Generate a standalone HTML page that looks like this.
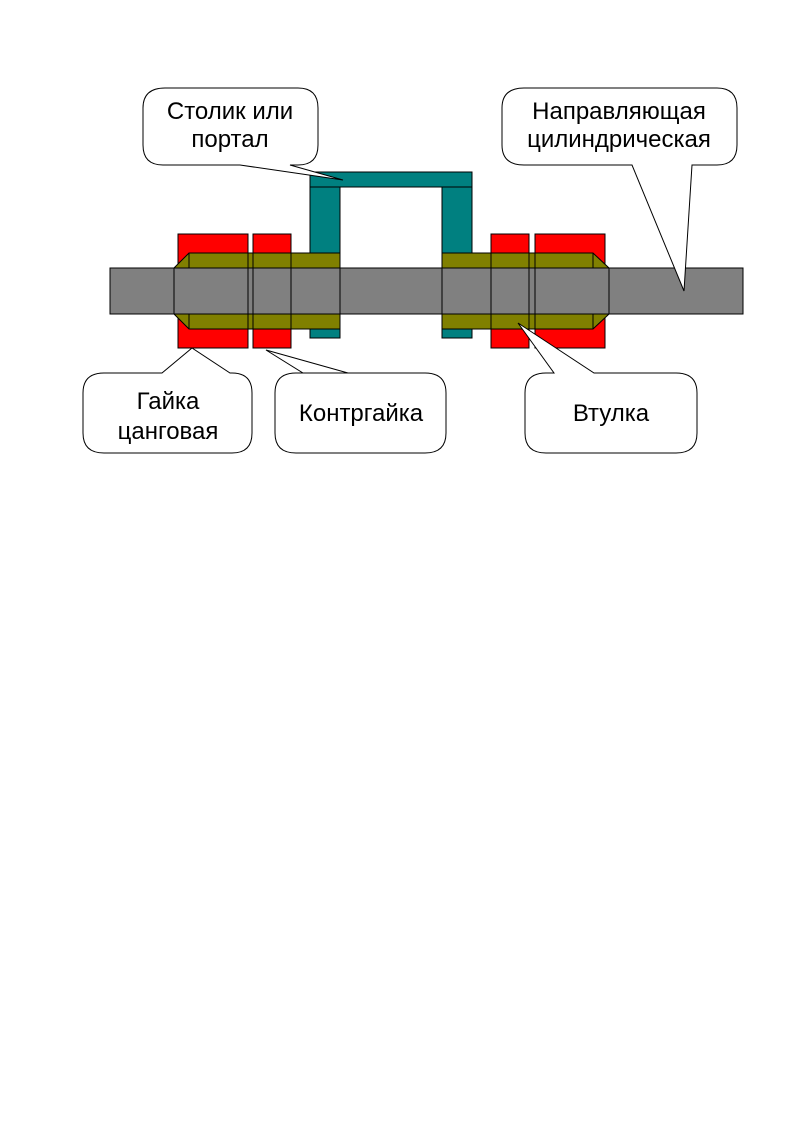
<!DOCTYPE html>
<html><head><meta charset="utf-8"><style>
html,body{margin:0;padding:0;background:#fff;}
svg{display:block;}
text{font-family:"Liberation Sans",Arial,sans-serif;font-size:24px;fill:#000;}
</style></head><body>
<svg width="794" height="1123" viewBox="0 0 794 1123" xmlns="http://www.w3.org/2000/svg">
<g stroke="#000" stroke-width="1">
<path d="M310,172 H472 V338 H442 V187 H340 V338 H310 Z" fill="#008080"/>
<line x1="310" y1="187" x2="340" y2="187"/><line x1="442" y1="187" x2="472" y2="187"/>
<rect x="178" y="234" width="70" height="114" fill="#ff0000"/>
<rect x="253" y="234" width="38" height="114" fill="#ff0000"/>
<rect x="491" y="234" width="38" height="114" fill="#ff0000"/>
<rect x="535" y="234" width="70" height="114" fill="#ff0000"/>
<path d="M189,253 H340 V329 H189 L174,314 V268 Z" fill="#808000"/>
<path d="M442,253 H593 L609,268 V314 L593,329 H442 Z" fill="#808000"/>
<rect x="110" y="268" width="633" height="46" fill="#808080"/>
<line x1="174" y1="268" x2="174" y2="314"/>
<line x1="248" y1="253" x2="248" y2="329"/>
<line x1="253" y1="253" x2="253" y2="329"/>
<line x1="291" y1="253" x2="291" y2="329"/>
<line x1="340" y1="253" x2="340" y2="329"/>
<line x1="442" y1="253" x2="442" y2="329"/>
<line x1="491" y1="253" x2="491" y2="329"/>
<line x1="529" y1="253" x2="529" y2="329"/>
<line x1="535" y1="253" x2="535" y2="329"/>
<line x1="609" y1="268" x2="609" y2="314"/>
<line x1="189" y1="253" x2="189" y2="268"/><line x1="189" y1="314" x2="189" y2="329"/>
<line x1="593" y1="253" x2="593" y2="268"/><line x1="593" y1="314" x2="593" y2="329"/>
</g>
<g fill="#fff" stroke="#000" stroke-width="1">
<path d="M165,88 H298 Q318,88 318,108 V145 Q318,165 298,165 H290 L343,180 L240,165 H163 Q143,165 143,145 V108 Q143,88 165,88 Z"/>
<path d="M524,88 H717 Q737,88 737,108 V145 Q737,165 717,165 H692 L684,291 L632,165 H524 Q502,165 502,145 V108 Q502,88 524,88 Z"/>
<path d="M104,373 H162 L192,348 L230,373 H232 Q252,373 252,393 V433 Q252,453 232,453 H104 Q83,453 83,433 V393 Q83,373 104,373 Z"/>
<path d="M296,373 H348 L266,350 L303,373 H425 Q446,373 446,393 V433 Q446,453 425,453 H296 Q275,453 275,433 V393 Q275,373 296,373 Z"/>
<path d="M546,373 H554 L518,323 L594,373 H676 Q697,373 697,393 V433 Q697,453 676,453 H546 Q525,453 525,433 V393 Q525,373 546,373 Z"/>
</g>
<text x="230" y="119" text-anchor="middle">Столик или</text>
<text x="230" y="147" text-anchor="middle">портал</text>
<text x="619" y="119" text-anchor="middle">Направляющая</text>
<text x="619" y="147" text-anchor="middle">цилиндрическая</text>
<text x="168" y="409" text-anchor="middle">Гайка</text>
<text x="168" y="439" text-anchor="middle">цанговая</text>
<text x="361" y="421" text-anchor="middle">Контргайка</text>
<text x="611" y="421" text-anchor="middle">Втулка</text>
</svg>
</body></html>
